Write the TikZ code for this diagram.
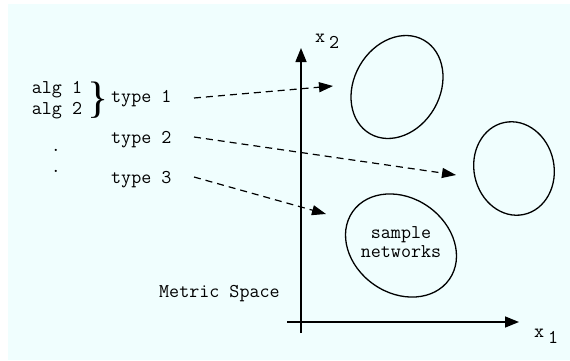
\documentclass[tikz,border=0pt]{standalone}
\usepackage{fontspec}
\newfontfamily\bracefont{Liberation Serif}
\usetikzlibrary{arrows.meta}
\definecolor{bgcyan}{HTML}{F0FEFE}
\tikzset{
  lbl/.style={font=\ttfamily\fontsize{19.5}{19}\selectfont, inner sep=0pt},
  axis/.style={line width=1.5pt, -{Triangle[length=14pt,width=11pt]}},
  blob/.style={line width=1.3pt},
  maparrow/.style={line width=1.2pt, dash pattern=on 7pt off 5pt, -{Triangle[length=14pt,width=10pt]}}
}
\begin{document}
\begin{tikzpicture}[x=1pt,y=1pt]
\useasboundingbox (0,0) rectangle (570,360);
\fill[bgcyan] (8,0) rectangle (570,356);
% axes
\coordinate (ybot) at (301,27);
\coordinate (ytop) at (301,312);
\coordinate (xleft) at (287,38);
\coordinate (xright) at (519,38);
\draw[axis] (ybot) -- (ytop);
\draw[axis] (xleft) -- (xright);
\node[lbl, anchor=base west] (xtwo) at (315,318) {x\hspace{4pt}\raisebox{-6pt}{2}};
\node[lbl, anchor=base west] (xone) at (534,23) {x\hspace{4pt}\raisebox{-6pt}{1}};
% ellipses
\draw[blob] (397,273) ellipse [x radius=43, y radius=54, rotate=-30];
\draw[blob] (514,191.5) ellipse [x radius=40, y radius=47, rotate=12];
\draw[blob] (401,114.5) ellipse [x radius=59, y radius=47.5, rotate=-35];
\node[lbl, align=center] (sn) at (401,118) {sample\\networks};
% left labels
\node[lbl, anchor=base] (alg1) at (57,267) {alg 1};
\node[lbl, anchor=base] (alg2) at (57,246) {alg 2};
\node[inner sep=0pt, font=\bracefont\fontsize{44}{44}\selectfont] (br) at (98,260) {\}};
\node[lbl, anchor=base west] (t1) at (111,258) {type 1};
\node[lbl, anchor=base west] (t2) at (111,217) {type 2};
\node[lbl, anchor=base west] (t3) at (111,177) {type 3};
\node[lbl] (d1) at (56,210) {.};
\node[lbl] (d2) at (56,189) {.};
\node[lbl, anchor=base west] (ms) at (159,63) {Metric Space};
% mapping arrows
\coordinate (a1s) at (194,262);
\coordinate (a1e) at (333,274);
\coordinate (a2s) at (194,223);
\coordinate (a2e) at (456,185);
\coordinate (a3s) at (194,183);
\coordinate (a3e) at (326,146);
\draw[maparrow] (a1s) -- (a1e);
\draw[maparrow] (a2s) -- (a2e);
\draw[maparrow] (a3s) -- (a3e);
\end{tikzpicture}
\end{document}
